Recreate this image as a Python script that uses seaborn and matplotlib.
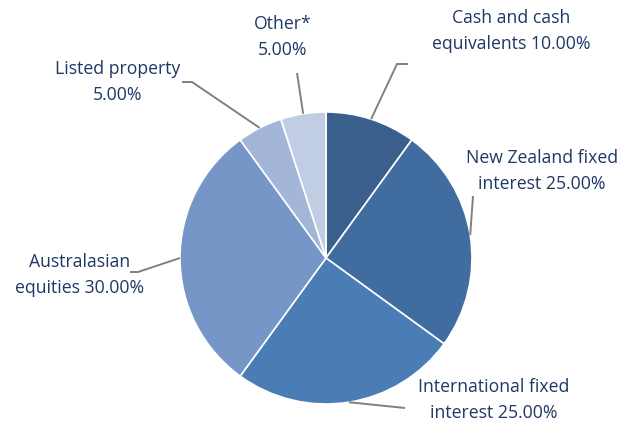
import numpy as np
import matplotlib.pyplot as plt
import seaborn as sns

# asset allocation
labels = ["Cash and cash\nequivalents 10.00%", "New Zealand fixed\ninterest 25.00%",
          "International fixed\ninterest 25.00%", "Australasian\nequities 30.00%",
          "Listed property\n5.00%", "Other*\n5.00%"]
shares = [10, 25, 25, 30, 5, 5]
colors = ["#3A5F8C", "#416CA0", "#4A7CB6", "#7696C8", "#A3B6D7", "#C1CDE3"]

# label layout (pixel coords, y from top): text centre, elbow points of leader line
text_pos = [(511, 31), (542, 171), (494, 400), (80, 275), (118, 82), (283, 37)]
elbows = [[(397, 64), (408, 64)], [(473, 196)], [(405, 408)],
          [(138, 272), (130, 272)], [(192, 82), (182, 82)], [(297, 73)]]

W, H = 628, 424
cx, cy, r = 326, 258, 146

sns.set_theme(style="white")
plt.rcParams["font.family"] = ["Open Sans", "DejaVu Sans"]

fig = plt.figure(figsize=(6.28, 4.24), dpi=100)
ax = fig.add_axes([0, 0, 1, 1])

wedges, _ = ax.pie(shares, colors=colors, startangle=90, counterclock=False,
                   center=(cx, H - cy), radius=r, frame=True,
                   wedgeprops=dict(edgecolor="white", linewidth=1.2))
ax.set_xlim(0, W)
ax.set_ylim(0, H)
ax.set_aspect("equal")
ax.axis("off")

for w, lab, (tx, ty), pts in zip(wedges, labels, text_pos, elbows):
    ang = np.deg2rad((w.theta1 + w.theta2) / 2)
    x0 = cx + r * np.cos(ang)
    y0 = (H - cy) + r * np.sin(ang)
    xs = [x0] + [p[0] for p in pts]
    ys = [y0] + [H - p[1] for p in pts]
    ax.plot(xs, ys, color="#808080", linewidth=1.4, solid_capstyle="butt")
    ax.text(tx, H - ty, lab, ha="center", va="center", fontsize=12.7,
            color="#1F3866", linespacing=1.62)

fig.savefig("out.png", dpi=100)
